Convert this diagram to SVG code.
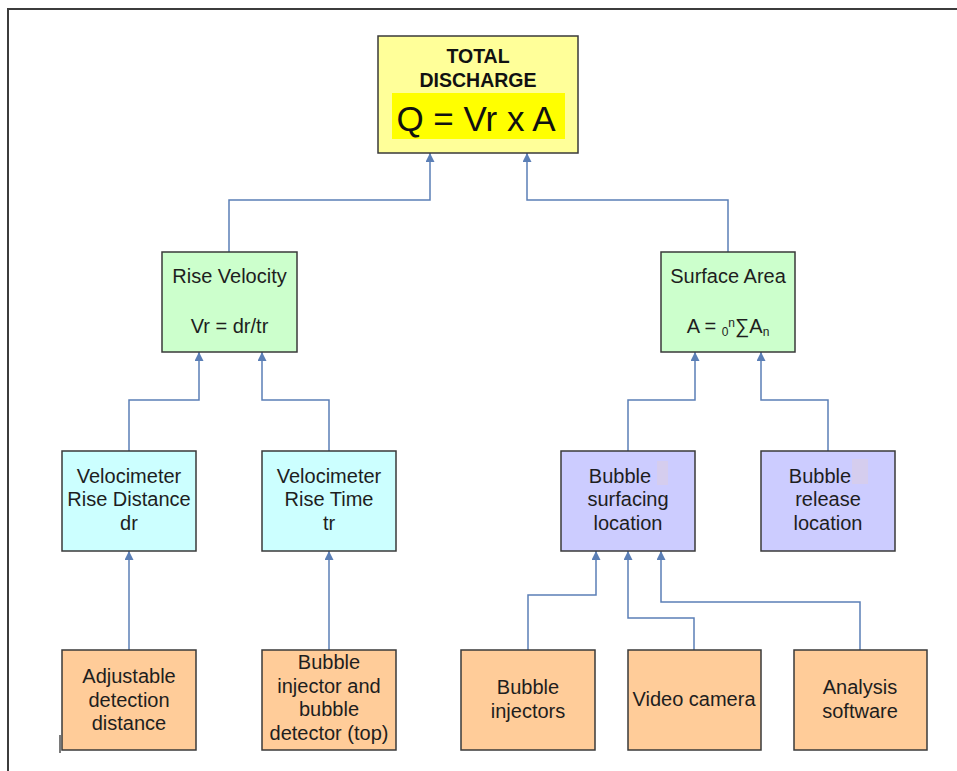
<svg xmlns="http://www.w3.org/2000/svg" width="957" height="771" viewBox="0 0 957 771">
<style>
.box{stroke:#3a3a3a;stroke-width:1.5}
.y{fill:#ffff99}.g{fill:#ccffcc}.c{fill:#ccffff}.p{fill:#ccccff}.o{fill:#ffcc99}
.t{font-family:"Liberation Sans",Arial,sans-serif;font-size:20px;fill:#1e1e1e;text-anchor:middle}
.b{font-weight:bold;font-size:19.5px;fill:#111}
.conn path{fill:none;stroke:#5b7fb6;stroke-width:1.5}
</style>
<defs>
<marker id="ah" viewBox="0 0 10 10" refX="10" refY="5" markerWidth="10" markerHeight="9" markerUnits="userSpaceOnUse" orient="auto">
<path d="M0,0 L10,5 L0,10 z" fill="#5b7fb6"/>
</marker>
</defs>
<rect width="957" height="771" fill="#ffffff"/>
<path d="M8,771 V9 H957" fill="none" stroke="#3c3c3c" stroke-width="2"/>
<line x1="60" y1="735" x2="60" y2="753" stroke="#222" stroke-width="1.2"/>

<g class="conn">
<path d="M229,252 V200 H430 V153" marker-end="url(#ah)"/>
<path d="M728,252 V200 H527 V153" marker-end="url(#ah)"/>
<path d="M129,451 V400 H199 V352" marker-end="url(#ah)"/>
<path d="M329,451 V400 H262 V352" marker-end="url(#ah)"/>
<path d="M628,451 V400 H695 V352" marker-end="url(#ah)"/>
<path d="M828,451 V400 H761 V352" marker-end="url(#ah)"/>
<path d="M129,650 V551" marker-end="url(#ah)"/>
<path d="M329,650 V551" marker-end="url(#ah)"/>
<path d="M528,650 V595 H596 V551" marker-end="url(#ah)"/>
<path d="M694,650 V618 H628 V551" marker-end="url(#ah)"/>
<path d="M860,650 V602 H661 V551" marker-end="url(#ah)"/>
</g>

<g id="total">
<rect class="box y" x="378" y="36" width="200" height="117"/>
<rect x="392" y="93" width="173" height="46" fill="#ffff00"/>
<text class="t b" x="478" y="63">TOTAL</text>
<text class="t b" x="478" y="87">DISCHARGE</text>
<text class="t" x="476" y="131" style="font-size:35px;fill:#111">Q = Vr x A</text>
</g>

<g id="rise-velocity">
<rect class="box g" x="162" y="252" width="135" height="100"/>
<text class="t" x="229.5" y="283">Rise Velocity</text>
<text class="t" x="229.5" y="333">Vr = dr/tr</text>
</g>

<g id="surface-area">
<rect class="box g" x="661" y="252" width="134" height="100"/>
<text class="t" x="728" y="283">Surface Area</text>
<text class="t" x="728" y="333">A = <tspan style="font-size:12px" dy="3">0</tspan><tspan style="font-size:12px" dy="-9">n</tspan><tspan dy="6">∑A</tspan><tspan style="font-size:12px" dy="3">n</tspan></text>
</g>

<g id="rise-distance">
<rect class="box c" x="62" y="451" width="134" height="100"/>
<text class="t" x="129" y="483">Velocimeter</text>
<text class="t" x="129" y="506">Rise Distance</text>
<text class="t" x="129" y="530">dr</text>
</g>

<g id="rise-time">
<rect class="box c" x="262" y="451" width="134" height="100"/>
<text class="t" x="329" y="483">Velocimeter</text>
<text class="t" x="329" y="506">Rise Time</text>
<text class="t" x="329" y="530">tr</text>
</g>

<g id="surfacing-location">
<rect class="box p" x="561" y="451" width="134" height="100"/>
<rect x="657" y="461" width="11" height="24" fill="#d5cdee"/>
<text class="t" x="628" y="483"><tspan x="620">Bubble</tspan></text>
<text class="t" x="628" y="506">surfacing</text>
<text class="t" x="628" y="530">location</text>
</g>

<g id="release-location">
<rect class="box p" x="761" y="451" width="134" height="100"/>
<rect x="852" y="459" width="16" height="25" fill="#d5cdee"/>
<text class="t" x="828" y="483"><tspan x="820">Bubble</tspan></text>
<text class="t" x="828" y="506">release</text>
<text class="t" x="828" y="530">location</text>
</g>

<g id="adjustable">
<rect class="box o" x="62" y="650" width="134" height="100"/>
<text class="t" x="129" y="683">Adjustable</text>
<text class="t" x="129" y="707">detection</text>
<text class="t" x="129" y="730">distance</text>
</g>

<g id="injector-detector">
<rect class="box o" x="262" y="650" width="134" height="100"/>
<text class="t" x="329" y="669">Bubble</text>
<text class="t" x="329" y="693">injector and</text>
<text class="t" x="329" y="716">bubble</text>
<text class="t" x="329" y="740">detector (top)</text>
</g>

<g id="bubble-injectors">
<rect class="box o" x="461" y="650" width="134" height="100"/>
<text class="t" x="528" y="694">Bubble</text>
<text class="t" x="528" y="718">injectors</text>
</g>

<g id="video-camera">
<rect class="box o" x="628" y="650" width="133" height="100"/>
<text class="t" x="694" y="706">Video camera</text>
</g>

<g id="analysis-software">
<rect class="box o" x="794" y="650" width="133" height="100"/>
<text class="t" x="860" y="694">Analysis</text>
<text class="t" x="860" y="718">software</text>
</g>
</svg>
